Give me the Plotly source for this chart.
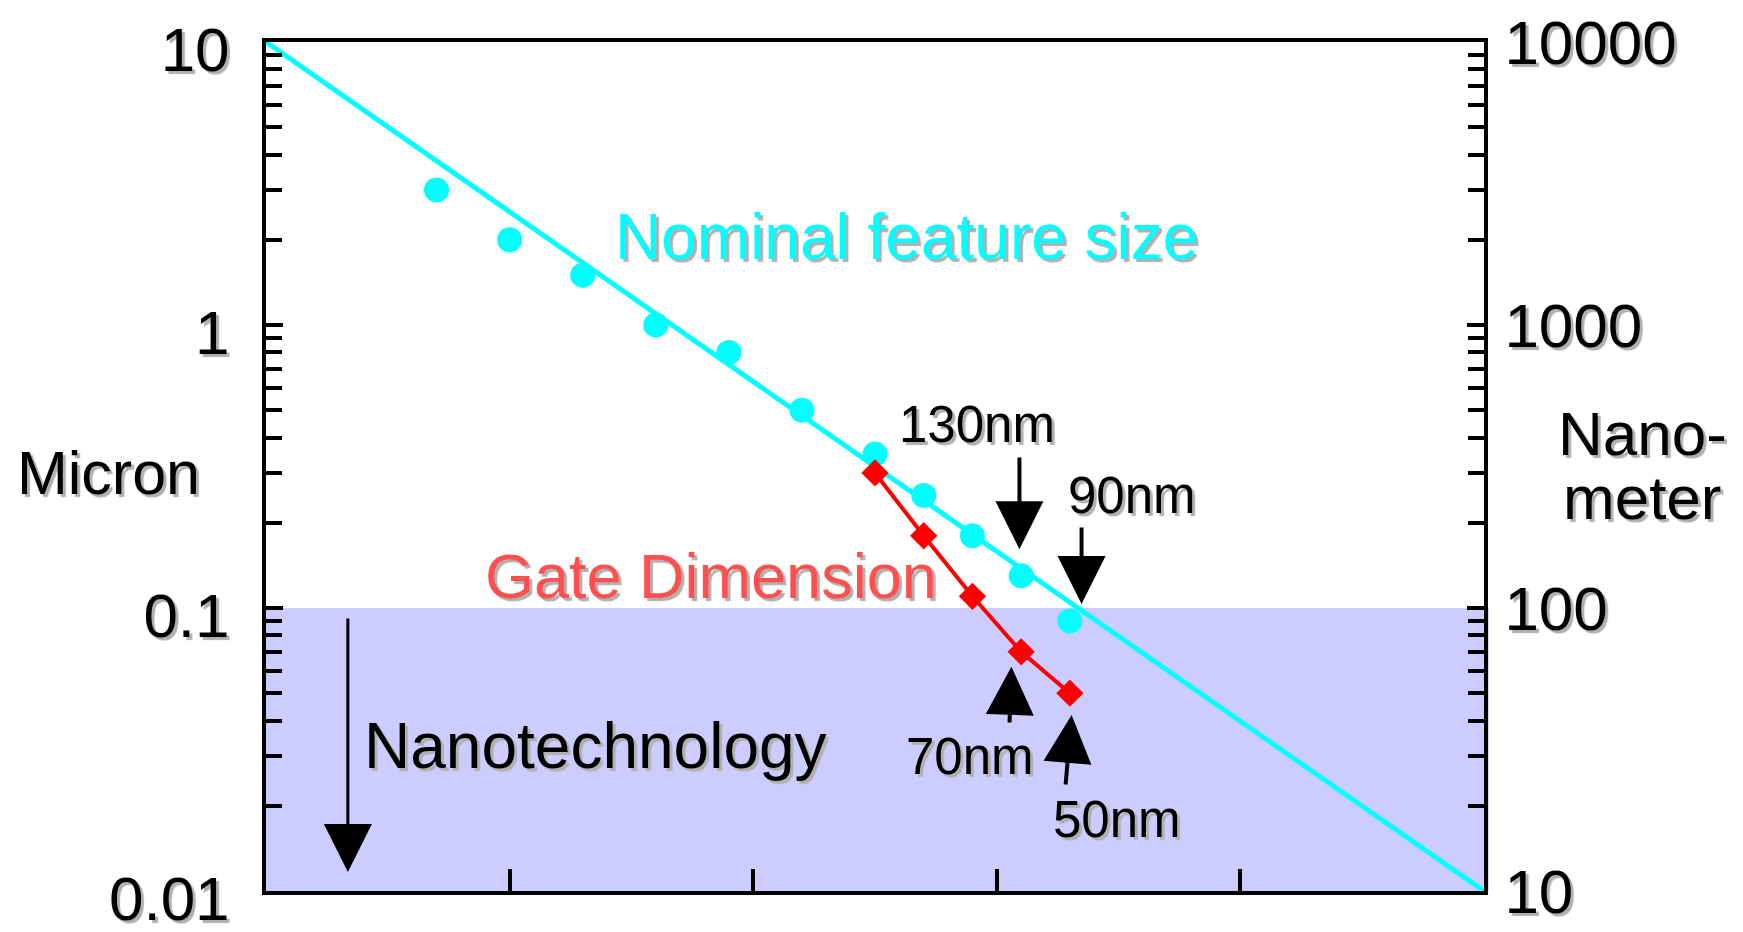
import numpy as np
import plotly.graph_objects as go

# ---------------- data ----------------
years_feature = [1977, 1980, 1983, 1986, 1989, 1992, 1995, 1997, 1999, 2001, 2003]
feature_um = [3.0, 2.0, 1.5, 1.0, 0.8, 0.5, 0.35, 0.25, 0.18, 0.13, 0.09]

trend_years = [1970, 2020]
trend_um = [10, 0.01]

years_gate = [1995, 1997, 1999, 2001, 2003]
gate_um = [0.3, 0.18, 0.11, 0.07, 0.05]

left_tickvals = [0.01, 0.1, 1, 10]
left_ticktext = ["0.01", "0.1", "1", "10"]
right_tickvals = [10, 100, 1000, 10000]
right_ticktext = ["10", "100", "1000", "10000"]
x_tickvals = [1980, 1990, 2000, 2010]

nano_threshold_um = 0.1
um_to_nm = 1000

# ---------------- style ----------------
FONT = "Liberation Sans, Arial, sans-serif"
SHADOW = "3px 3px 1px #b0b0b0"
CYAN = "#00FFFF"
RED = "#FF0000"
GATE_TEXT = "#FF5050"

fig = go.Figure()

# trend line
fig.add_trace(go.Scatter(x=trend_years, y=trend_um, mode="lines",
                         line=dict(color=CYAN, width=5), hoverinfo="skip",
                         showlegend=False))
# nominal feature size points
fig.add_trace(go.Scatter(x=years_feature, y=feature_um, mode="markers",
                         marker=dict(color=CYAN, size=25, symbol="circle"),
                         showlegend=False))
# gate dimension
fig.add_trace(go.Scatter(x=years_gate, y=gate_um, mode="lines+markers",
                         line=dict(color=RED, width=4),
                         marker=dict(color=RED, size=21, symbol="diamond"),
                         showlegend=False))
# invisible trace on the nanometer axis
fig.add_trace(go.Scatter(x=trend_years, y=[v * um_to_nm for v in trend_um],
                         yaxis="y2", mode="lines",
                         line=dict(color="rgba(0,0,0,0)", width=0),
                         hoverinfo="skip", showlegend=False))

# nanotechnology band
fig.add_shape(type="rect", xref="x domain", yref="y",
              x0=0, x1=1.004, y0=left_tickvals[0], y1=nano_threshold_um,
              fillcolor="#CCCCFF", line=dict(width=0), layer="below")

def minor_vals(e0, e1):
    return [k * 10 ** e for e in range(e0, e1) for k in range(2, 10)]

tickfont = dict(family=FONT, size=62, color="black", shadow=SHADOW)

fig.update_layout(
    width=1743, height=932,
    margin=dict(l=266, r=259, t=42, b=41, autoexpand=False),
    plot_bgcolor="white", paper_bgcolor="white",
    showlegend=False,
    xaxis=dict(range=[1970, 2020], showline=True, linewidth=4, linecolor="black",
               mirror=True, ticks="inside", tickvals=x_tickvals, ticklen=22,
               tickwidth=4, tickcolor="black", showticklabels=False,
               showgrid=False, zeroline=False, automargin=False),
    yaxis=dict(type="log", range=[-2, 1], showline=True, linewidth=4,
               linecolor="black", ticks="inside", tickvals=left_tickvals,
               ticktext=left_ticktext, ticklen=17, tickwidth=4, tickcolor="black",
               tickfont=tickfont, showgrid=False, zeroline=False,
               ticklabelstandoff=20, ticklabelshift=7, ticklabeloverflow="allow",
               automargin=False,
               minor=dict(tickvals=minor_vals(-2, 1), ticks="inside", ticklen=16,
                          tickwidth=4, tickcolor="black", showgrid=False)),
    yaxis2=dict(type="log", range=[1, 4], overlaying="y", side="right",
                showline=True, linewidth=4, linecolor="black", ticks="inside",
                tickvals=right_tickvals, ticktext=right_ticktext, ticklen=17,
                tickwidth=4, tickcolor="black", tickfont=tickfont,
                showgrid=False, zeroline=False, ticklabelstandoff=4,
                ticklabeloverflow="allow", automargin=False,
                minor=dict(tickvals=minor_vals(1, 4), ticks="inside", ticklen=16,
                           tickwidth=4, tickcolor="black", showgrid=False)),
)

def txt(text, x, y, size, color="black", xref="x", yref="y", xanchor="center"):
    fig.add_annotation(text=text, x=x, y=y, xref=xref, yref=yref, showarrow=False,
                       xanchor=xanchor, yanchor="middle",
                       font=dict(family=FONT, size=size, color=color, shadow=SHADOW))

def arrow(x, y, ax, ay, width=4, size=2.4):
    fig.add_annotation(text="", x=x, y=y, ax=ax, ay=ay, xref="x", yref="y",
                       axref="x", ayref="y", showarrow=True, arrowhead=2,
                       arrowwidth=width, arrowsize=size, arrowcolor="black",
                       standoff=0, startstandoff=0, font=dict(size=1))

# labels (annotation y values are log10 of micron values)
txt("Nominal feature size", 1996.3, 0.311, 64, CYAN)
txt("Gate Dimension", 1988.26, -0.887, 63, GATE_TEXT)
txt("Nanotechnology", 1973.94, -1.488, 64, xanchor="left")
txt("130nm", 1999.2, -0.350, 51)
txt("90nm", 2005.53, -0.604, 51)
txt("70nm", 1998.88, -1.523, 51)
txt("50nm", 2004.95, -1.749, 51)
txt("Micron", -0.1297, 0.492, 61, xref="paper", yref="paper")
txt("Nano-", 1.130, 0.539, 62, xref="paper", yref="paper")
txt("meter", 1.130, 0.463, 62, xref="paper", yref="paper")

# arrows
arrow(2000.93, -0.792, 2000.93, -0.463)
arrow(2003.48, -0.986, 2003.48, -0.710)
arrow(2000.60, -1.208, 2000.52, -1.410)
arrow(2003.07, -1.378, 2002.82, -1.629)
arrow(1973.36, -1.933, 1973.36, -1.032, width=3, size=3.2)

fig.write_html("out.html", config={"displayModeBar": False},
               post_script="document.body.style.margin='0';document.body.style.overflow='hidden';")
